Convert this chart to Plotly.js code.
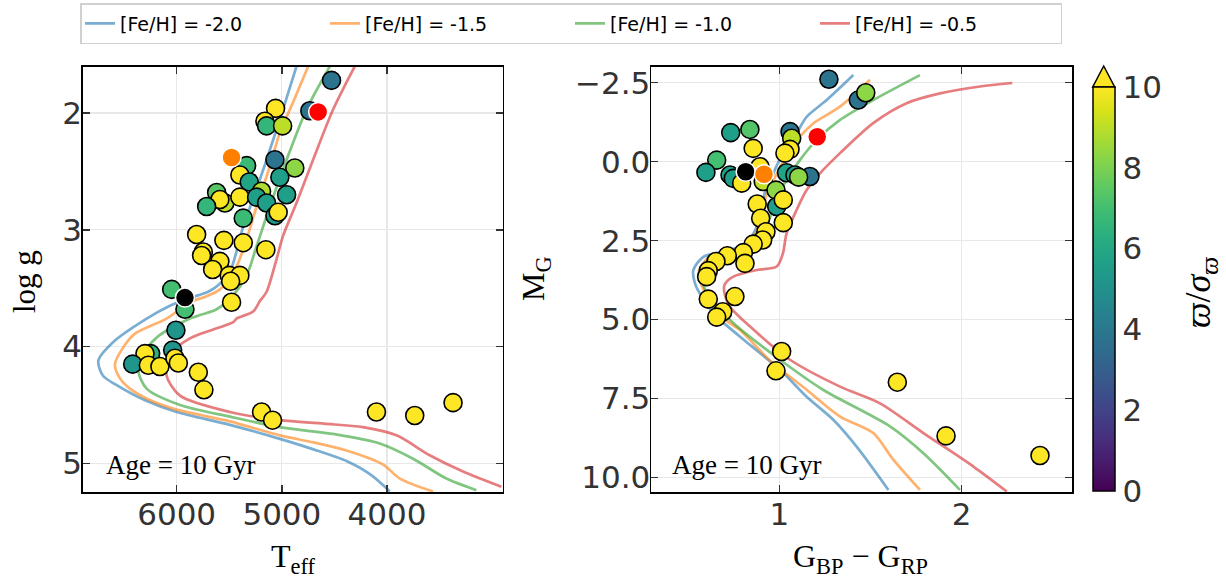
<!DOCTYPE html>
<html>
<head>
<meta charset="utf-8">
<script src="https://cdn.plot.ly/plotly-3.0.1.min.js"></script>
<style>html,body{margin:0;padding:0;background:#fff;}#plot{width:1226px;height:581px;}</style>
</head>
<body>
<div id="plot"></div>
<script>
// ---------- Isochrones, Kiel diagram (Teff, log g) ----------
const feh_labels = ["[Fe/H] = -2.0", "[Fe/H] = -1.5", "[Fe/H] = -1.0", "[Fe/H] = -0.5"];
const iso_colors = ["rgba(31,119,180,0.6)", "rgba(255,127,14,0.6)", "rgba(44,160,44,0.6)", "rgba(214,39,40,0.6)"];

const teff_m20 = [4861, 5000, 5145, 5260, 5367, 5494, 5600, 5700, 5900, 6064, 6285, 6602, 6744, 6700, 6570, 6300, 6000, 5494, 5019, 4700, 4386, 4150, 3974];
const logg_m20 = [1.60, 2.00, 2.40, 2.70, 2.97, 3.36, 3.47, 3.53, 3.59, 3.65, 3.76, 3.96, 4.12, 4.25, 4.33, 4.46, 4.56, 4.67, 4.79, 4.88, 4.98, 5.10, 5.24];

const teff_m15 = [4750, 4890, 5019, 5130, 5240, 5335, 5430, 5589, 5720, 5874, 6095, 6412, 6586, 6540, 6444, 6250, 6000, 5494, 5019, 4700, 4386, 4038, 3879, 3563];
const logg_m15 = [1.60, 1.90, 2.17, 2.50, 2.80, 3.08, 3.31, 3.51, 3.57, 3.62, 3.76, 3.90, 4.15, 4.27, 4.36, 4.46, 4.54, 4.64, 4.76, 4.82, 4.89, 5.01, 5.13, 5.24];

const teff_m10 = [4544, 4766, 4955, 5114, 5240, 5335, 5462, 5620, 5778, 5874, 6159, 6285, 6365, 6285, 5968, 5494, 5019, 4500, 4070, 3753, 3436, 3151];
const logg_m10 = [1.60, 1.97, 2.40, 2.80, 3.14, 3.39, 3.56, 3.68, 3.73, 3.76, 3.90, 4.02, 4.20, 4.36, 4.50, 4.60, 4.69, 4.75, 4.83, 4.96, 5.13, 5.23];

const teff_m05 = [4307, 4513, 4703, 4861, 4988, 5050, 5145, 5209, 5273, 5430, 5462, 5874, 6064, 6095, 5968, 5494, 5019, 4600, 4228, 3911, 3595, 3278, 2914];
const logg_m05 = [1.60, 1.97, 2.40, 2.77, 3.05, 3.25, 3.53, 3.61, 3.70, 3.76, 3.79, 3.93, 4.07, 4.25, 4.42, 4.56, 4.63, 4.66, 4.69, 4.76, 4.93, 5.07, 5.20];

// ---------- Isochrones, CMD (BP-RP, M_G) ----------
const bprp_m20 = [1.406, 1.26, 1.15, 1.095, 1.02, 0.967, 0.92, 0.876, 0.82, 0.693, 0.584, 0.529, 0.538, 0.575, 0.657, 0.785, 1.004, 1.15, 1.296, 1.424, 1.598];
const mg_m20   = [-2.74, -1.95, -1.42, -0.90, -0.27, 0.37, 1.00, 2.06, 2.58, 2.85, 3.01, 3.43, 3.85, 4.27, 4.90, 5.54, 6.59, 7.44, 8.17, 9.02, 10.39];

const bprp_m15 = [1.497, 1.333, 1.186, 1.113, 1.04, 0.98, 0.93, 0.89, 0.84, 0.72, 0.61, 0.56, 0.57, 0.61, 0.68, 0.785, 0.95, 1.15, 1.333, 1.515, 1.625, 1.771];
const mg_m15   = [-2.59, -1.74, -1.21, -0.79, -0.20, 0.45, 1.05, 2.00, 2.55, 2.85, 3.05, 3.45, 3.85, 4.30, 4.90, 5.33, 6.30, 7.22, 8.07, 8.59, 9.43, 10.39];

const bprp_m10 = [1.771, 1.515, 1.333, 1.205, 1.113, 1.04, 0.99, 0.94, 0.88, 0.75, 0.63, 0.57, 0.58, 0.62, 0.748, 1.004, 1.24, 1.607, 1.79, 1.99];
const mg_m10   = [-2.74, -1.95, -1.32, -0.69, -0.05, 0.58, 1.10, 1.90, 2.50, 2.85, 3.05, 3.45, 3.85, 4.30, 5.11, 6.27, 7.22, 8.38, 9.23, 10.39];

const bprp_m05 = [2.277, 2.10, 1.881, 1.698, 1.515, 1.333, 1.223, 1.15, 1.095, 1.04, 1.02, 0.986, 0.876, 0.748, 0.70, 0.70, 0.73, 0.84, 1.059, 1.333, 1.552, 1.79, 2.064, 2.247];
const mg_m05   = [-2.49, -2.38, -2.16, -1.85, -1.22, -0.27, 0.37, 0.90, 1.53, 2.27, 2.90, 3.32, 3.43, 3.64, 3.90, 4.17, 4.59, 5.22, 6.27, 7.12, 7.65, 8.59, 9.65, 10.44];

// ---------- Stars, Kiel diagram ----------
const star_teff = [4528, 4734, 5060, 5161, 5145, 4993, 5066, 4877, 5335, 5399, 5310, 5019, 5193, 5620, 5541, 5589, 5715, 5399, 5240, 5145, 4955, 5367, 5066, 5035,
  5810, 5551, 5367, 5152, 5747, 5763, 5589, 5658, 5500, 5399, 5487, 6047, 5921, 5478,
  6007, 6038, 6247, 6301, 6418, 6269, 6159, 6016, 5984, 5794, 5741, 5193, 5088, 4101, 3737, 3373];
const star_logg = [1.72, 1.98, 1.96, 2.07, 2.11, 2.11, 2.40, 2.47, 2.45, 2.53, 2.59, 2.55, 2.67, 2.68, 2.77, 2.74, 2.80, 2.72, 2.72, 2.77, 2.70, 2.90, 2.88, 2.85,
  3.04, 3.09, 3.11, 3.17, 3.19, 3.22, 3.27, 3.34, 3.39, 3.39, 3.44, 3.51, 3.68, 3.62,
  3.86, 4.03, 4.06, 4.06, 4.15, 4.16, 4.17, 4.10, 4.14, 4.22, 4.37, 4.56, 4.63, 4.56, 4.59, 4.48];
const star_snr_kiel = [3.8, 3.8, 10, 10, 6.6, 9, 3.8, 8.3, 6.8, 10, 5.8, 5.6, 8.8, 7.4, 9, 10, 6.6, 10, 5.6, 5.6, 5.6, 6.8, 5.5, 10,
  10, 10, 10, 10, 10, 10, 10, 10, 10, 10, 10, 7.0, 7.0, 10,
  5.2, 5.2, 6.4, 10, 5.2, 10, 10, 10, 10, 10, 10, 10, 10, 10, 10, 10];

// ---------- Stars, CMD ----------
const star_bprp = [1.272, 1.433, 1.474, 0.734, 0.839, 1.059, 1.068, 0.857, 1.059, 1.031, 0.657, 0.598, 0.730, 0.748, 0.794, 0.894, 1.040, 1.086, 1.168, 1.106, 0.912, 0.982, 0.986,
  0.879, 1.022, 0.898, 1.022, 0.927, 0.909, 0.857, 0.803, 0.715, 0.812, 0.653, 0.611, 0.602, 0.611, 0.757, 0.690, 0.657, 1.013, 0.982, 1.647, 1.914, 2.429];
const star_mg = [-2.61, -1.95, -2.18, -0.92, -1.02, -0.95, -0.74, -0.42, -0.39, -0.27, -0.05, 0.34, 0.42, 0.53, 0.68, 0.16, 0.35, 0.42, 0.47, 0.49, 0.63, 0.90, 1.42,
  1.34, 1.21, 1.79, 1.93, 2.22, 2.48, 2.61, 2.88, 2.98, 3.22, 3.16, 3.45, 3.64, 4.35, 4.27, 4.75, 4.92, 6.01, 6.62, 6.98, 8.68, 9.30];
const star_snr_cmd = [3.8, 3.8, 8.3, 5.6, 7.3, 3.8, 9, 10, 10, 10, 7.0, 5.6, 5.6, 5.6, 10, 10, 5.8, 5.6, 3.8, 8.3, 9, 8.3, 5.6,
  10, 10, 10, 10, 10, 10, 10, 10, 10, 10, 10, 10, 10, 10, 10, 10, 10, 10, 10, 10, 10, 10];

// ---------- Highlighted stars ----------
const hl_colors = ["black", "#ff8000", "#ff0000"];
const hl_teff = [5921, 5478, 4655];
const hl_logg = [3.58, 2.38, 1.99];
const hl_bprp = [0.816, 0.916, 1.208];
const hl_mg = [0.32, 0.40, -0.79];

const cbar_ticks = [0, 2, 4, 6, 8, 10];
const mg_ticks = [-2.5, 0, 2.5, 5, 7.5, 10];
const mg_ticktext = ["\u22122.5", "0.0", "2.5", "5.0", "7.5", "10.0"];
const teff_ticks = [6000, 5000, 4000];
const logg_ticks = [2, 3, 4, 5];
const bprp_ticks = [1, 2];

const W = 1226, H = 581;
const px = v => v / W;
const py = v => 1 - v / H;

const kielX = [teff_m20, teff_m15, teff_m10, teff_m05];
const kielY = [logg_m20, logg_m15, logg_m10, logg_m05];
const cmdX = [bprp_m20, bprp_m15, bprp_m10, bprp_m05];
const cmdY = [mg_m20, mg_m15, mg_m10, mg_m05];

const TF = 31;
const tickFont = {family: 'DejaVu Sans', size: TF, color: '#333'};

const traces = [];
for (let i = 0; i < 4; i++) {
  traces.push({x: kielX[i], y: kielY[i], type: 'scatter', mode: 'lines', name: feh_labels[i],
    line: {color: iso_colors[i], width: 2.7, shape: 'spline', smoothing: 0.8}, legendgroup: 'g' + i, xaxis: 'x', yaxis: 'y', hoverinfo: 'skip'});
}
for (let i = 0; i < 4; i++) {
  traces.push({x: cmdX[i], y: cmdY[i], type: 'scatter', mode: 'lines', name: feh_labels[i], showlegend: false,
    line: {color: iso_colors[i], width: 2.7, shape: 'spline', smoothing: 0.8}, legendgroup: 'g' + i, xaxis: 'x2', yaxis: 'y2', hoverinfo: 'skip'});
}
traces.push({x: star_teff, y: star_logg, type: 'scatter', mode: 'markers', showlegend: false, xaxis: 'x', yaxis: 'y',
  marker: {size: 18, color: star_snr_kiel, cmin: 0, cmax: 10, colorscale: 'Viridis', line: {color: 'black', width: 1.6},
    showscale: true,
    colorbar: {xref: 'container', x: px(1092.7), xanchor: 'left', yref: 'container', y: py(289), yanchor: 'middle', len: 404, lenmode: 'pixels',
      thickness: 22, thicknessmode: 'pixels', xpad: 0, ypad: 0, outlinewidth: 1.5, outlinecolor: 'black',
      tickvals: cbar_ticks, ticks: '', tickfont: tickFont}}});
traces.push({x: star_bprp, y: star_mg, type: 'scatter', mode: 'markers', showlegend: false, xaxis: 'x2', yaxis: 'y2',
  marker: {size: 18, color: star_snr_cmd, cmin: 0, cmax: 10, colorscale: 'Viridis', line: {color: 'black', width: 1.6}, showscale: false}});
traces.push({x: hl_teff, y: hl_logg, type: 'scatter', mode: 'markers', showlegend: false, xaxis: 'x', yaxis: 'y',
  marker: {size: 19, color: hl_colors, line: {color: 'white', width: 1.5}}});
traces.push({x: hl_bprp, y: hl_mg, type: 'scatter', mode: 'markers', showlegend: false, xaxis: 'x2', yaxis: 'y2',
  marker: {size: 19, color: hl_colors, line: {color: 'white', width: 1.5}}});

const axBase = {showline: true, linecolor: 'black', linewidth: 1.5, mirror: 'allticks', ticks: 'inside', ticklen: 7, tickwidth: 1.5,
  tickcolor: '#333', showgrid: true, gridcolor: '#e8e8e8', gridwidth: 1.2, zeroline: false, tickfont: tickFont, fixedrange: true};

const ydom = [py(492), py(66.7)];
const serif = 'Liberation Serif';
const layout = {
  width: W, height: H, margin: {l: 0, r: 0, t: 0, b: 0, autoexpand: false}, paper_bgcolor: 'white', plot_bgcolor: 'white',
  showlegend: true,
  legend: {orientation: 'h', x: px(80), y: py(3), xanchor: 'left', yanchor: 'top', bordercolor: '#d0d0d0', borderwidth: 1.5,
    font: {family: 'DejaVu Sans', size: 19, color: 'black'}, itemwidth: 30, entrywidth: 200, entrywidthmode: 'pixels', bgcolor: 'white'},
  xaxis: Object.assign({}, axBase, {domain: [px(82.7), px(502.7)], range: [6893, 2901], tickvals: teff_ticks, anchor: 'y', ticklabelstandoff: -6}),
  yaxis: Object.assign({}, axBase, {domain: ydom, range: [5.245, 1.603], tickvals: logg_ticks, anchor: 'x', ticklabelstandoff: -7}),
  xaxis2: Object.assign({}, axBase, {domain: [px(651), px(1072.3)], range: [0.297, 2.606], tickvals: bprp_ticks, anchor: 'y2', ticklabelstandoff: -6}),
  yaxis2: Object.assign({}, axBase, {domain: ydom, range: [10.456, -3.006], tickvals: mg_ticks, ticktext: mg_ticktext, anchor: 'x2', ticklabelstandoff: -7}),
  shapes: [{type: 'path', xref: 'paper', yref: 'paper',
    path: `M ${px(1092.7)},${py(87)} L ${px(1114.7)},${py(87)} L ${px(1103.7)},${py(66)} Z`,
    fillcolor: '#fde725', line: {color: 'black', width: 1.5}}],
  annotations: [
    {text: 'Age = 10 Gyr', xref: 'paper', yref: 'paper', x: px(104), y: py(465), xanchor: 'left', yanchor: 'middle', showarrow: false,
      font: {family: serif, size: 27, color: 'black'}},
    {text: 'Age = 10 Gyr', xref: 'paper', yref: 'paper', x: px(670), y: py(465), xanchor: 'left', yanchor: 'middle', showarrow: false,
      font: {family: serif, size: 27, color: 'black'}},
    {text: 'log g', xref: 'paper', yref: 'paper', x: px(24), y: py(281), xanchor: 'center', yanchor: 'middle', textangle: -90, showarrow: false,
      font: {family: serif, size: 31, color: 'black'}},
    {text: 'T<sub>eff</sub>', xref: 'paper', yref: 'paper', x: px(293), y: py(558), xanchor: 'center', yanchor: 'middle', showarrow: false,
      font: {family: serif, size: 32, color: 'black'}},
    {text: 'M<sub>G</sub>', xref: 'paper', yref: 'paper', x: px(535), y: py(279), xanchor: 'center', yanchor: 'middle', textangle: -90, showarrow: false,
      font: {family: serif, size: 32, color: 'black'}},
    {text: 'G<sub>BP</sub> \u2212 G<sub>RP</sub>', xref: 'paper', yref: 'paper', x: px(860), y: py(558), xanchor: 'center', yanchor: 'middle', showarrow: false,
      font: {family: serif, size: 32, color: 'black'}},
    {text: '<i>\u03d6</i>/<i>\u03c3</i><sub><i>\u03d6</i></sub>', xref: 'paper', yref: 'paper', x: px(1200), y: py(293), xanchor: 'center', yanchor: 'middle', textangle: -90, showarrow: false,
      font: {family: serif, size: 36, color: 'black'}}
  ]
};

Plotly.newPlot('plot', traces, layout, {displayModeBar: false, staticPlot: true});
</script>
</body>
</html>
